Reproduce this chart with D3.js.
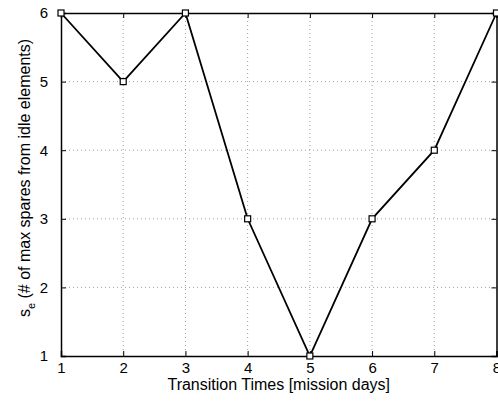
<!DOCTYPE html>
<html>
<head>
<meta charset="utf-8">
<script src="https://cdn.jsdelivr.net/npm/d3@7"></script>
<style>
  body { margin: 0; background: #fff; }
  svg { display: block; font-family: "Liberation Sans", Arial, sans-serif; }
</style>
</head>
<body>
<div id="chart"></div>
<script>
// Data
const days = [1, 2, 3, 4, 5, 6, 7, 8];
const spares = [6, 5, 6, 3, 1, 3, 4, 6];
const xTicks = [1, 2, 3, 4, 5, 6, 7, 8];
const yTicks = [1, 2, 3, 4, 5, 6];

const chart = {
    totalWidth: 498,
    totalHeight: 401,
    margin: { top: 13, bottom: 45, left: 61, right: 1.5 }
};
chart.width = chart.totalWidth - chart.margin.left - chart.margin.right;
chart.height = chart.totalHeight - chart.margin.top - chart.margin.bottom;

const svg = d3.select('#chart')
    .append('svg')
    .attr('width', chart.totalWidth)
    .attr('height', chart.totalHeight);

const g = svg.append('g')
    .attr('transform', `translate(${chart.margin.left}, ${chart.margin.top})`);

const xScale = d3.scaleLinear().domain([1, 8]).range([0, chart.width]);
const yScale = d3.scaleLinear().domain([1, 6]).range([chart.height, 0]);

// grid
g.append('g').selectAll('line')
    .data(xTicks.slice(1, -1))
    .enter().append('line')
    .attr('x1', d => xScale(d)).attr('x2', d => xScale(d))
    .attr('y1', 0).attr('y2', chart.height)
    .attr('stroke', '#888').attr('stroke-width', 0.8)
    .attr('stroke-dasharray', '1,3');

g.append('g').selectAll('line')
    .data(yTicks.slice(1, -1))
    .enter().append('line')
    .attr('y1', d => yScale(d)).attr('y2', d => yScale(d))
    .attr('x1', 0).attr('x2', chart.width)
    .attr('stroke', '#888').attr('stroke-width', 0.8)
    .attr('stroke-dasharray', '1,3');

// axes
const tickLen = 5;
const xAxis = d3.axisBottom(xScale).tickValues(xTicks).tickSize(-tickLen).tickPadding(6).tickFormat(d3.format('d'));
const xAxisTop = d3.axisTop(xScale).tickValues(xTicks).tickSize(-tickLen).tickFormat('');
const yAxis = d3.axisLeft(yScale).tickValues(yTicks).tickSize(-tickLen).tickPadding(13).tickFormat(d3.format('d'));
const yAxisRight = d3.axisRight(yScale).tickValues(yTicks).tickSize(-tickLen).tickFormat('');

g.append('g').attr('transform', `translate(0, ${chart.height})`).call(xAxis);
g.append('g').call(xAxisTop);
g.append('g').call(yAxis);
g.append('g').attr('transform', `translate(${chart.width}, 0)`).call(yAxisRight);

g.selectAll('.domain').attr('stroke', '#000').attr('stroke-width', 1.5);
g.selectAll('.tick line').attr('stroke', '#000');
g.selectAll('.tick text').attr('font-size', 15).attr('fill', '#000')
    .attr('font-family', '"Liberation Sans", Arial, sans-serif');

// line
const line = d3.line()
    .x((d, i) => xScale(days[i]))
    .y(d => yScale(d));

g.append('path')
    .datum(spares)
    .attr('fill', 'none')
    .attr('stroke', '#000')
    .attr('stroke-width', 1.8)
    .attr('d', line);

// markers
const ms = 6;
g.append('g').selectAll('rect')
    .data(spares)
    .enter().append('rect')
    .attr('x', (d, i) => xScale(days[i]) - ms / 2)
    .attr('y', d => yScale(d) - ms / 2)
    .attr('width', ms).attr('height', ms)
    .attr('fill', '#fff')
    .attr('stroke', '#000')
    .attr('stroke-width', 1.2);

// titles
svg.append('text')
    .attr('x', chart.margin.left + chart.width / 2)
    .attr('y', 390)
    .attr('text-anchor', 'middle')
    .attr('font-size', 16)
    .text('Transition Times [mission days]');

const yTitle = svg.append('text')
    .attr('transform', `translate(30, ${178}) rotate(-90)`)
    .attr('text-anchor', 'middle')
    .attr('font-size', 16);
yTitle.append('tspan').text('s');
yTitle.append('tspan').attr('font-size', 11).attr('dy', 5).text('e');
yTitle.append('tspan').attr('dy', -5).text(' (# of max spares from idle elements)');
</script>
</body>
</html>
